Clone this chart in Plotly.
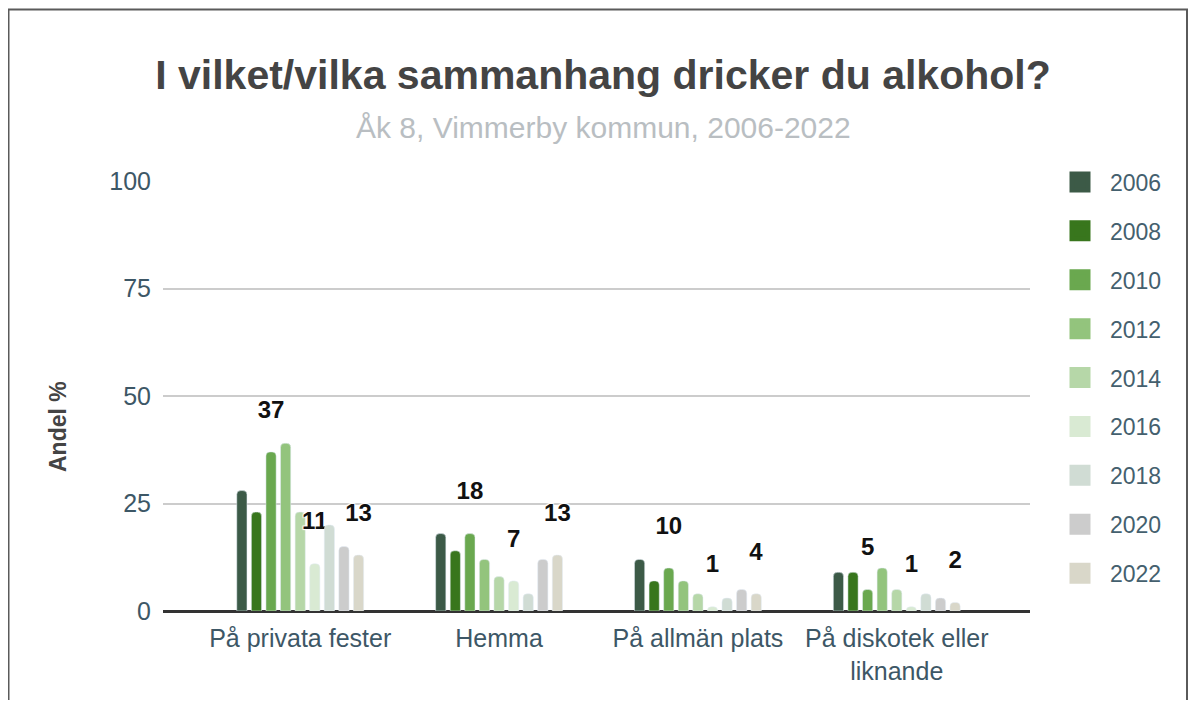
import plotly.graph_objects as go

categories = ["På privata fester", "Hemma", "På allmän plats", "På diskotek eller<br>liknande"]
years = ["2006", "2008", "2010", "2012", "2014", "2016", "2018", "2020", "2022"]
values = {
    "2006": [28, 18, 12, 9],
    "2008": [23, 14, 7, 9],
    "2010": [37, 18, 10, 5],
    "2012": [39, 12, 7, 10],
    "2014": [23, 8, 4, 5],
    "2016": [11, 7, 1, 1],
    "2018": [20, 4, 3, 4],
    "2020": [15, 12, 5, 3],
    "2022": [13, 13, 4, 2],
}
colors = {
    "2006": "#3c5a47",
    "2008": "#38761d",
    "2010": "#6aa84f",
    "2012": "#93c47d",
    "2014": "#b6d7a8",
    "2016": "#d9ead3",
    "2018": "#d0dcd4",
    "2020": "#cccccc",
    "2022": "#d9d7c9",
}
labelled_years = ["2010", "2016", "2022"]
y_ticks = [0, 25, 50, 75, 100]

TICK = "#3d5766"
FONT = "Liberation Sans, Arial, sans-serif"

# The page body has an 8px margin; figure coordinates are page coordinates minus 8.
OFF = 8
FW, FH = 1196 - 2 * OFF, 708 - 2 * OFF

def fx(p):
    return p - OFF

L, R, T, B = fx(163), fx(1030), fx(181), fx(611)
W, H = R - L, B - T

def px_x(p):
    return (fx(p) - L) / W

def px_y(p):
    return (B - fx(p)) / H

fig = go.Figure()
for yr in years:
    vals = values[yr]
    txt = ([f'{v}<br><span style="font-size:1px">&nbsp;</span>' for v in vals]
           if yr in labelled_years else None)
    fig.add_trace(go.Bar(
        x=categories, y=vals, name=yr, marker_color=colors[yr],
        text=txt, textposition="outside" if txt else None,
        textfont=dict(family=FONT, size=24, color="#111111", weight="bold",
                      shadow="1px 1px 1px #fff, -1px -1px 1px #fff, 1px -1px 1px #fff, -1px 1px 1px #fff"),
        constraintext="none", cliponaxis=False,
        showlegend=False, hoverinfo="skip",
    ))
    fig.add_trace(go.Scatter(
        x=[categories[0]], y=[None], mode="markers", name=yr, legendgroup=yr,
        marker=dict(symbol="square", size=16, color=colors[yr],
                    line=dict(color=colors[yr], width=5)),
        showlegend=True, hoverinfo="skip",
    ))

fig.update_layout(
    width=FW, height=FH,
    margin=dict(l=L, r=FW - R, t=T, b=FH - B, pad=0),
    paper_bgcolor="white", plot_bgcolor="white",
    font=dict(family=FONT, color=TICK),
    barmode="group", bargap=0.34, bargroupgap=0.3,
    barcornerradius=4,
    title=dict(text="<b>I vilket/vilka sammanhang dricker du alkohol?</b>",
               x=fx(603) / FW, xanchor="center", y=1 - fx(75) / FH, yanchor="middle",
               font=dict(size=41, color="#444444", family=FONT)),
    legend=dict(x=px_x(1050), xanchor="left", y=px_y(160.5), yanchor="top",
                font=dict(size=23, color="#44606e"), tracegroupgap=16,
                itemwidth=50, maxheight=600,
                bgcolor="rgba(0,0,0,0)"),
    xaxis=dict(range=[-0.69, 3.67], showgrid=False, showline=False,
               tickfont=dict(size=25, color=TICK), ticks="", zeroline=False,
               ticklabelstandoff=10, fixedrange=True),
    yaxis=dict(range=[0, 100], tickvals=y_ticks, showgrid=True,
               gridcolor="#cccccc", gridwidth=1.5,
               zeroline=True, zerolinecolor="#333333", zerolinewidth=2.5,
               tickfont=dict(size=25, color=TICK), ticks="",
               ticklabelstandoff=11, showline=False,
               fixedrange=True),
    annotations=[
        dict(text="Åk 8, Vimmerby kommun, 2006-2022",
             xref="paper", yref="paper", x=px_x(603), y=px_y(127),
             xanchor="center", yanchor="middle", showarrow=False,
             font=dict(size=30, color="#b9bec2", family=FONT)),
        dict(text="<b>Andel %</b>", textangle=-90,
             xref="paper", yref="paper", x=px_x(58), y=px_y(427),
             xanchor="center", yanchor="middle", showarrow=False,
             font=dict(size=23, color="#444444", family=FONT)),
    ],
    shapes=[dict(type="rect", xref="paper", yref="paper",
                 x0=px_x(8.5), x1=px_x(1187), y0=px_y(740), y1=px_y(9.5),
                 line=dict(color="#5a5a5a", width=2), fillcolor="rgba(0,0,0,0)",
                 layer="below")],
)

fig.write_html("out.html")
